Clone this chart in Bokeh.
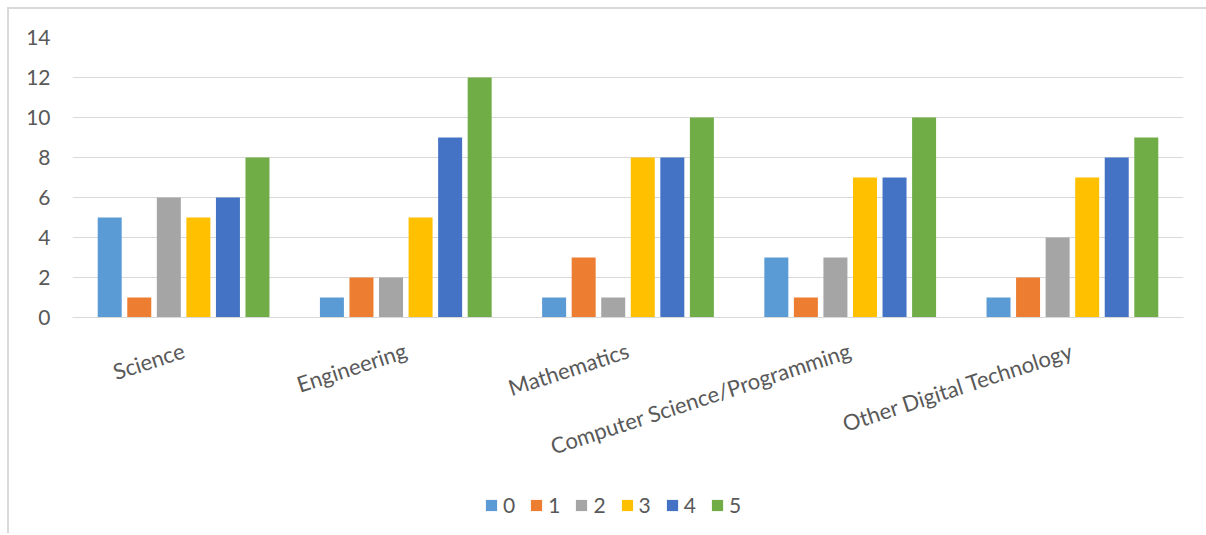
from math import radians

from bokeh.embed import file_html
from bokeh.layouts import column
from bokeh.models import ColumnDataSource, FactorRange, FixedTicker, Legend, LegendItem, Range1d
from bokeh.plotting import figure
from bokeh.resources import INLINE
from bokeh.transform import dodge

# Subjects on the category axis
categories = [
    "Science",
    "Engineering",
    "Mathematics",
    "Computer Science/Programming",
    "Other Digital Technology",
]

# Counts per rating (0-5) for each subject
rating_0 = [5, 1, 1, 3, 1]
rating_1 = [1, 2, 3, 1, 2]
rating_2 = [6, 2, 1, 3, 4]
rating_3 = [5, 5, 8, 7, 7]
rating_4 = [6, 9, 8, 7, 8]
rating_5 = [8, 12, 10, 10, 9]

series_names = ["0", "1", "2", "3", "4", "5"]
series_values = [rating_0, rating_1, rating_2, rating_3, rating_4, rating_5]
series_colors = ["#5B9BD5", "#ED7D31", "#A5A5A5", "#FFC000", "#4472C4", "#70AD47"]

y_ticks = [0, 2, 4, 6, 8, 10, 12, 14]

FONT = "Lato"
TEXT_COLOR = "#595959"
GRID_COLOR = "#D9D9D9"
WIDTH = 1197

data = {"cat": categories}
for name, vals in zip(series_names, series_values):
    data["s" + name] = vals
source = ColumnDataSource(data)

step = 0.133
bar_w = 0.108


def add_bars(fig):
    """Draw the six dodged bar series on fig and return their renderers."""
    renderers = []
    for i, (name, color) in enumerate(zip(series_names, series_colors)):
        r = fig.vbar(
            x=dodge("cat", (i - 2.5) * step, range=fig.x_range),
            top="s" + name,
            width=bar_w,
            source=source,
            fill_color=color,
            line_color=None,
        )
        renderers.append(r)
    return renderers


# Main chart
p = figure(
    x_range=FactorRange(*categories, range_padding=0),
    y_range=Range1d(0, 14),
    width=WIDTH,
    height=470,
    min_border_left=63,
    min_border_right=23,
    min_border_top=28,
    min_border_bottom=162,
    output_backend="svg",
    toolbar_location=None,
)
p.outline_line_color = None
p.background_fill_color = "white"
p.border_fill_color = "white"
add_bars(p)

p.xgrid.grid_line_color = None
p.ygrid.grid_line_color = GRID_COLOR
p.ygrid.grid_line_width = 1
p.yaxis.ticker = FixedTicker(ticks=y_ticks)
p.yaxis.axis_line_color = None
p.yaxis.major_tick_line_color = None
p.yaxis.minor_tick_line_color = None
p.yaxis.major_label_standoff = 16
p.yaxis.major_label_text_font = FONT
p.yaxis.major_label_text_font_size = "21px"
p.yaxis.major_label_text_color = TEXT_COLOR

p.xaxis.axis_line_color = GRID_COLOR
p.xaxis.axis_line_width = 1
p.xaxis.major_tick_line_color = None
p.xaxis.minor_tick_line_color = None
p.xaxis.major_label_orientation = radians(18)
p.xaxis.major_label_standoff = 26
p.xaxis.major_label_text_font = FONT
p.xaxis.major_label_text_font_size = "22px"
p.xaxis.major_label_text_color = TEXT_COLOR

# Legend strip under the chart; its view range sits above the bars so only the
# legend swatches show.
leg = figure(
    width=WIDTH,
    height=54,
    x_range=FactorRange(*categories, range_padding=0),
    y_range=Range1d(100, 101),
    x_axis_location=None,
    y_axis_location=None,
    min_border=0,
    output_backend="svg",
    toolbar_location=None,
)
leg.outline_line_color = None
leg.background_fill_color = "white"
leg.border_fill_color = "white"
leg.xgrid.grid_line_color = None
leg.ygrid.grid_line_color = None
leg_renderers = add_bars(leg)

items = [LegendItem(label=name, renderers=[r]) for name, r in zip(series_names, leg_renderers)]

legend = Legend(
    items=items,
    orientation="horizontal",
    location=(412, 16),
    glyph_width=14,
    glyph_height=14,
    label_standoff=5,
    label_width=12,
    spacing=14,
    padding=0,
    margin=0,
    label_text_font=FONT,
    label_text_font_size="21px",
    label_text_color=TEXT_COLOR,
    border_line_color=None,
    background_fill_alpha=0,
)
leg.add_layout(legend, "center")

# Chart area frame: light rule on the left and top edges
layout = column(
    p,
    leg,
    spacing=0,
    styles={
        "margin-left": "7px",
        "margin-top": "7px",
        "border-left": "2px solid #D9D9D9",
        "border-top": "2px solid #D9D9D9",
        "overflow": "hidden",
    },
)

open("out.html", "w").write(file_html(layout, INLINE))
